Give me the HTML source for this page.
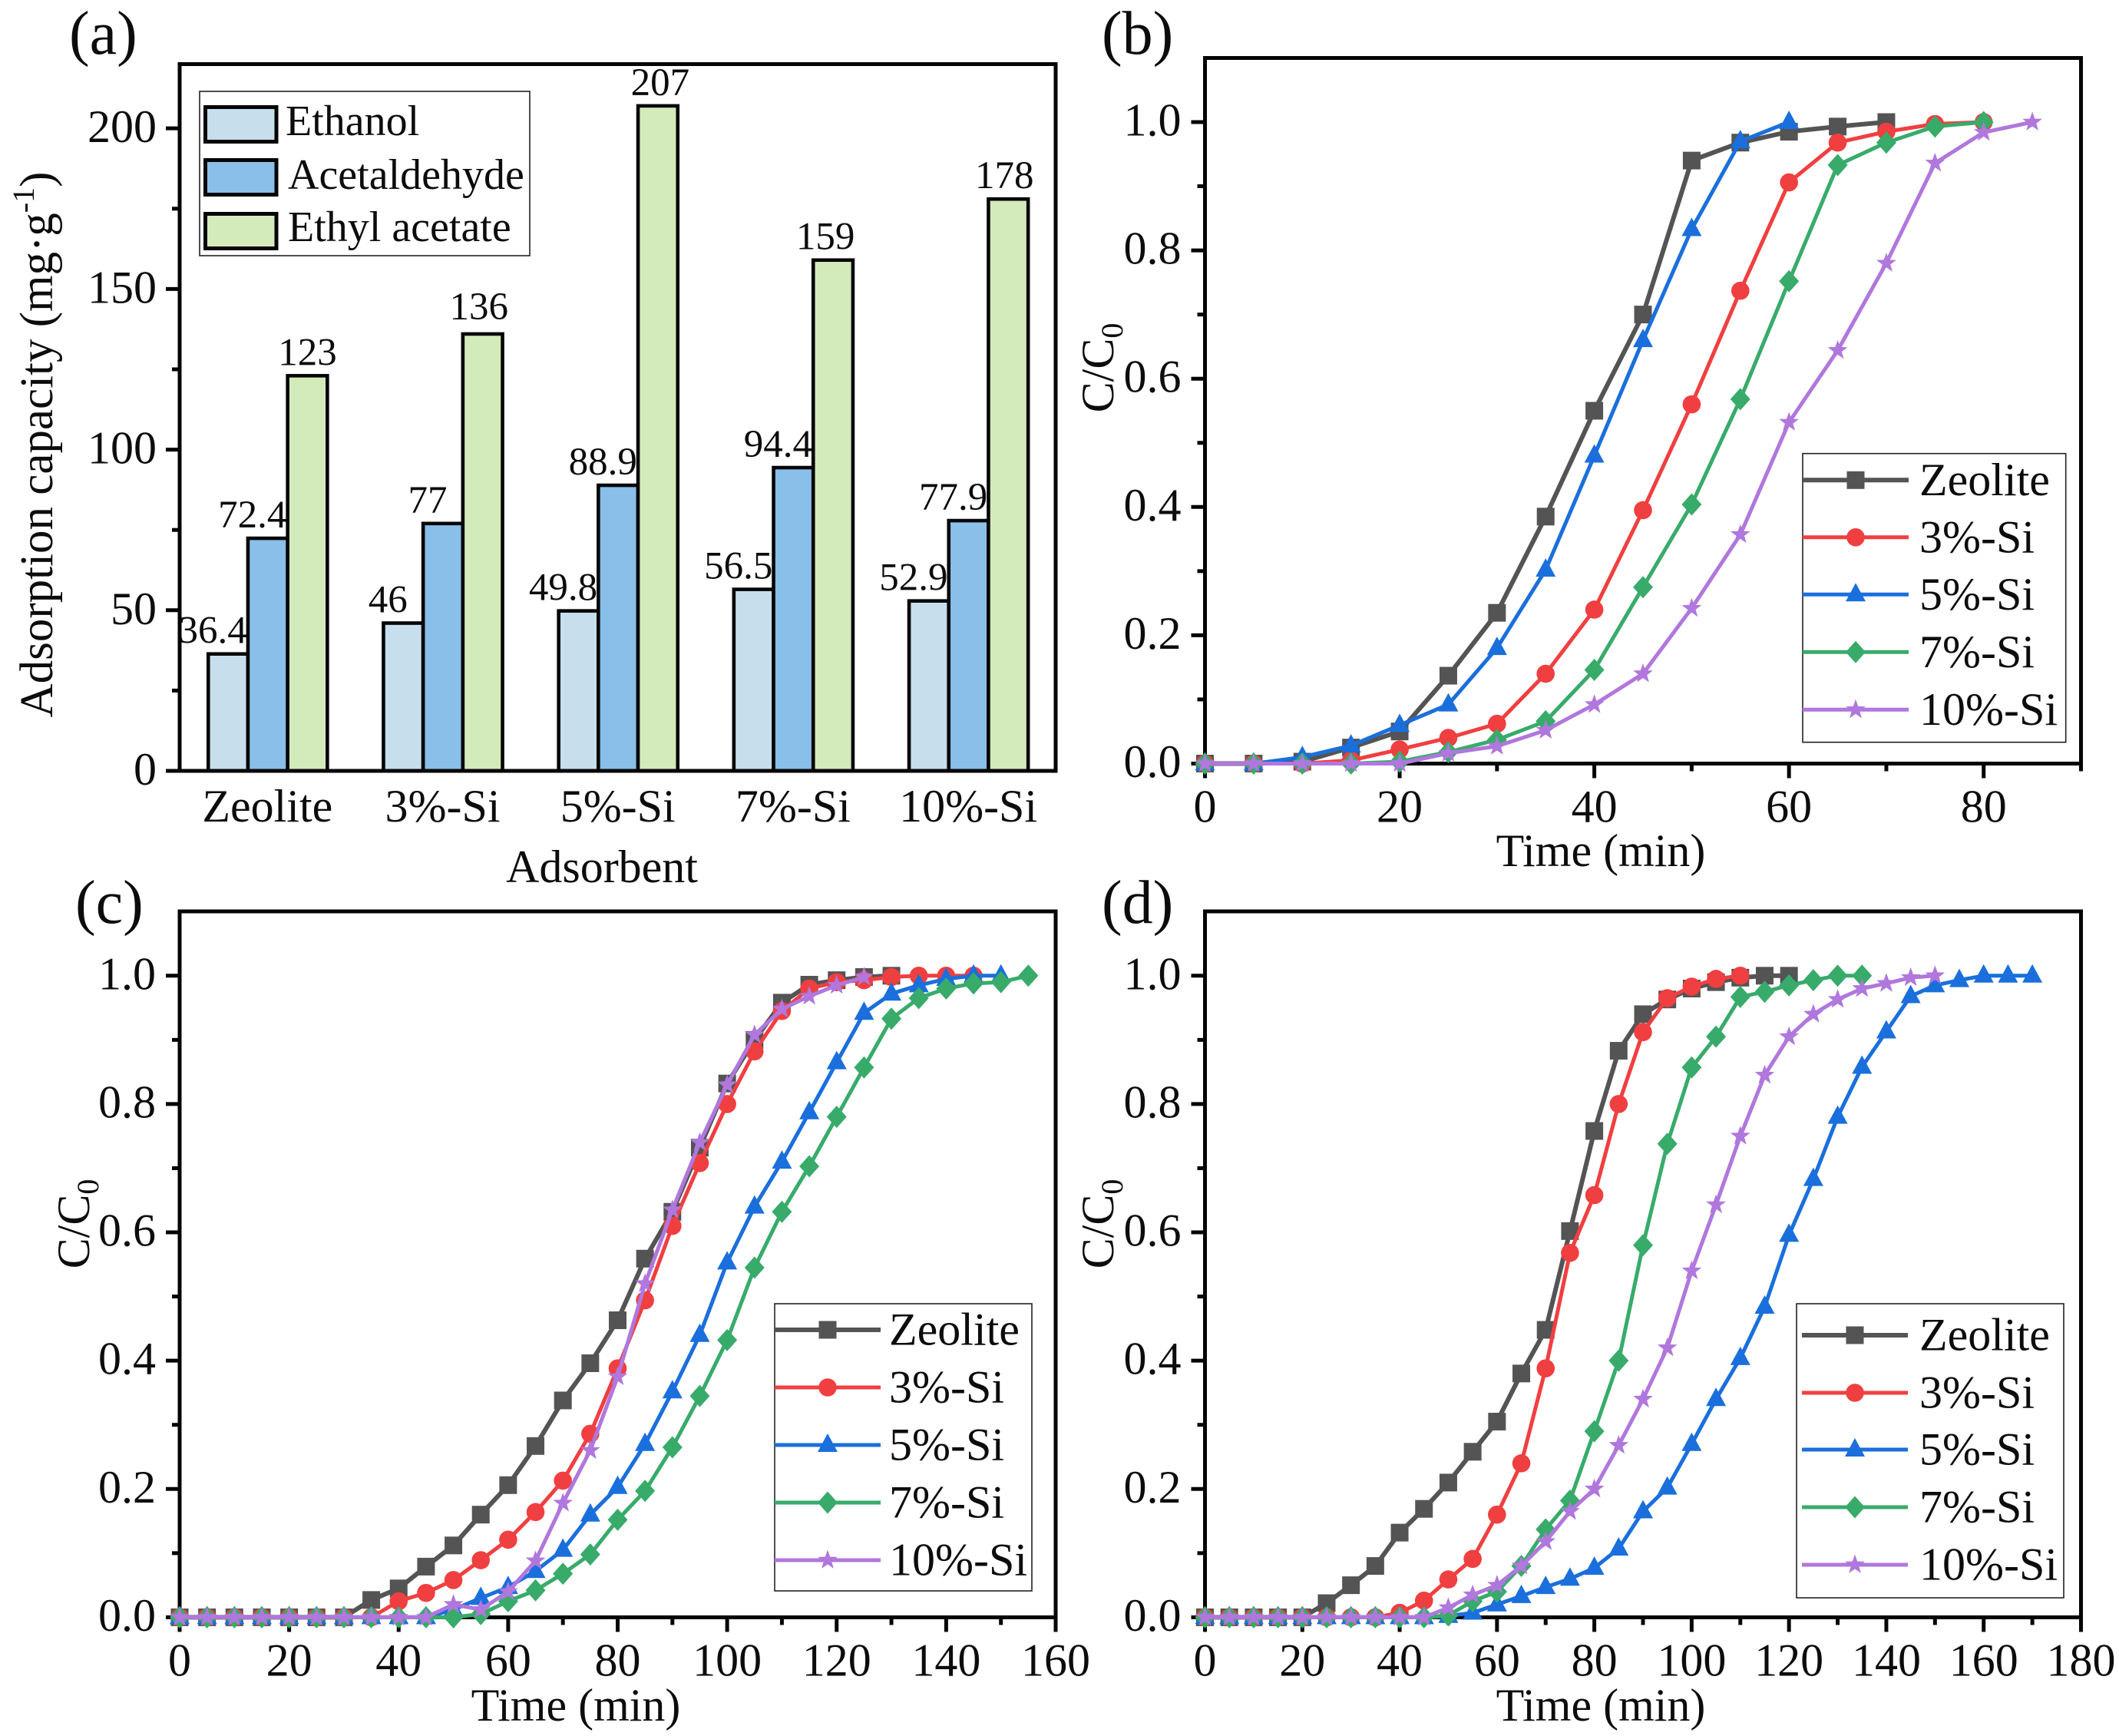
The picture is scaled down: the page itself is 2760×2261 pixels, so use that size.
<!DOCTYPE html>
<html lang="en">
<head>
<meta charset="utf-8">
<title>Adsorption capacity and breakthrough curves</title>
<style>
html,body{margin:0;padding:0;background:#fff;}
svg{display:block;}
text{font-family:"Liberation Serif",serif;fill:#0c0c0c;}
</style>
</head>
<body>
<svg id="fig" xmlns="http://www.w3.org/2000/svg" width="2760" height="2261" viewBox="0 0 2760 2261">
  <rect width="2760" height="2261" fill="#fff"/>
  <g id="plots"></g>
  <text x="90" y="70" font-size="80">(a)</text>
  <text x="1435" y="70" font-size="80">(b)</text>
  <text x="98" y="1202" font-size="80">(c)</text>
  <text x="1435" y="1202" font-size="80">(d)</text>
  <text transform="translate(68,579) rotate(-90)" text-anchor="middle" font-size="61">Adsorption capacity (mg·g<tspan dy="-24" font-size="40">-1</tspan><tspan dy="24">)</tspan></text>
  <text x="784" y="1149" text-anchor="middle" font-size="60">Adsorbent</text>
  <text transform="translate(1450,479) rotate(-90)" text-anchor="middle" font-size="60">C/C<tspan dy="12" font-size="40">0</tspan></text>
  <text x="2085" y="1128" text-anchor="middle" font-size="60">Time (min)</text>
  <text transform="translate(116,1594) rotate(-90)" text-anchor="middle" font-size="60">C/C<tspan dy="12" font-size="40">0</tspan></text>
  <text x="750" y="2241" text-anchor="middle" font-size="60">Time (min)</text>
  <text transform="translate(1450,1594) rotate(-90)" text-anchor="middle" font-size="60">C/C<tspan dy="12" font-size="40">0</tspan></text>
  <text x="2085" y="2241" text-anchor="middle" font-size="60">Time (min)</text>
</svg>
<script>
// ---- Panel (a) data
const adsorbents = ["Zeolite", "3%-Si", "5%-Si", "7%-Si", "10%-Si"];
const ethanol = [36.4, 46, 49.8, 56.5, 52.9];
const acetaldehyde = [72.4, 77, 88.9, 94.4, 77.9];
const ethylAcetate = [123, 136, 207, 159, 178];
const capacityTicks = [0, 50, 100, 150, 200];
const capacityMinorTicks = [25, 75, 125, 175];
const gasNames = ["Ethanol", "Acetaldehyde", "Ethyl acetate"];

// ---- Breakthrough data (samples every 5 min)
const timeMinutes = [0,5,10,15,20,25,30,35,40,45,50,55,60,65,70,75,80,85,90,95,100,105,110,115,120,125,130,135,140,145,150,155,160,165,170];
const seriesNames = ["Zeolite", "3%-Si", "5%-Si", "7%-Si", "10%-Si"];
const ratioTicks = [0, 0.2, 0.4, 0.6, 0.8, 1.0];
const ratioMinorTicks = [0.1, 0.3, 0.5, 0.7, 0.9];

const bZeolite = [0,0,0.003,0.025,0.05,0.137,0.235,0.385,0.55,0.70,0.94,0.968,0.985,0.993,1.0];
const b3Si = [0,0,0,0.005,0.022,0.04,0.062,0.14,0.24,0.395,0.56,0.737,0.906,0.968,0.985,0.997,1.0];
const b5Si = [0,0,0.01,0.028,0.06,0.092,0.18,0.302,0.48,0.66,0.833,0.97,1.0];
const b7Si = [0,0,0,0,0.003,0.018,0.037,0.066,0.146,0.275,0.404,0.568,0.752,0.933,0.968,0.993,1.0];
const b10Si = [0,0,0,0,0,0.016,0.027,0.052,0.092,0.14,0.242,0.357,0.532,0.644,0.78,0.936,0.984,1.0];
const bTimeTicks = [0, 20, 40, 60, 80];
const bTimeMinorTicks = [10, 30, 50, 70, 90];

const cZeolite = [0,0,0,0,0,0,0,0.027,0.045,0.079,0.112,0.16,0.206,0.267,0.338,0.396,0.463,0.559,0.632,0.732,0.832,0.90,0.958,0.986,0.993,0.998,1.0];
const c3Si = [0,0,0,0,0,0,0,0,0.025,0.038,0.058,0.089,0.121,0.164,0.213,0.286,0.388,0.494,0.61,0.708,0.80,0.882,0.945,0.98,0.99,0.993,0.998,1.0,1.0,1.0];
const c5Si = [0,0,0,0,0,0,0,0,0,0,0.012,0.03,0.047,0.072,0.105,0.16,0.203,0.27,0.352,0.44,0.553,0.64,0.71,0.787,0.865,0.942,0.972,0.985,0.995,1.0,1.0];
const c7Si = [0,0,0,0,0,0,0,0,0,0,0,0.005,0.025,0.042,0.068,0.098,0.152,0.197,0.265,0.345,0.432,0.545,0.632,0.703,0.78,0.857,0.933,0.965,0.98,0.988,0.99,1.0];
const c10Si = [0,0,0,0,0,0,0,0,0,0,0.02,0.012,0.04,0.088,0.178,0.26,0.375,0.52,0.635,0.74,0.83,0.908,0.948,0.968,0.985,0.998];
const cTimeTicks = [0, 20, 40, 60, 80, 100, 120, 140, 160];
const cTimeMinorTicks = [10, 30, 50, 70, 90, 110, 130, 150];

const dZeolite = [0,0,0,0,0,0.022,0.05,0.08,0.132,0.169,0.21,0.258,0.305,0.38,0.448,0.602,0.758,0.883,0.94,0.963,0.98,0.99,0.997,1.0,1.0];
const d3Si = [0,0,0,0,0,0,0,0,0.007,0.026,0.059,0.091,0.16,0.24,0.388,0.568,0.658,0.80,0.912,0.965,0.983,0.995,1.0];
const d5Si = [0,0,0,0,0,0,0,0,0,0,0.002,0.007,0.02,0.033,0.047,0.06,0.077,0.107,0.165,0.202,0.27,0.34,0.404,0.484,0.596,0.683,0.78,0.858,0.913,0.968,0.985,0.993,1.0,1.0,1.0];
const d7Si = [0,0,0,0,0,0,0,0,0,0,0.003,0.025,0.04,0.08,0.137,0.182,0.29,0.40,0.58,0.738,0.857,0.905,0.967,0.975,0.985,0.993,1.0,1.0];
const d10Si = [0,0,0,0,0,0,0,0,0,0,0.015,0.035,0.05,0.08,0.118,0.165,0.2,0.268,0.34,0.42,0.54,0.643,0.75,0.845,0.905,0.94,0.963,0.98,0.988,0.997,1.0];
const dTimeTicks = [0, 20, 40, 60, 80, 100, 120, 140, 160, 180];
const dTimeMinorTicks = [10, 30, 50, 70, 90, 110, 130, 150, 170];

const NS = "http://www.w3.org/2000/svg";
const root = document.getElementById("plots");
const colors = ["#545454", "#f03f40", "#1a6fdc", "#38ab6b", "#b077dd"];
const lineWidths = [6, 5, 5, 5, 5];
const barColors = ["#c7deec", "#89bfe9", "#d3ebba"];

function mk(tag, attrs, parent) {
  const el = document.createElementNS(NS, tag);
  for (const k in attrs) el.setAttribute(k, attrs[k]);
  (parent || root).appendChild(el);
  return el;
}
function label(str, x, y, size, anchor, name, parent) {
  const t = mk("text", {x: x, y: y, "font-size": size, "text-anchor": anchor}, parent);
  t.textContent = str;
  
  
  return t;
}
function frame(id, L, R, T, B) {
  const f = mk("rect", {x: L, y: T, width: R - L, height: B - T, fill: "none", stroke: "#050505", "stroke-width": 5});
  
  
}
function tick(x1, y1, x2, y2, name) {
  const t = mk("line", {x1: x1, y1: y1, x2: x2, y2: y2, stroke: "#050505", "stroke-width": 5});
  
  
}
function markerPath(kind, x, y) {
  if (kind === 2) return `M${x} ${y - 15}L${x + 13} ${y + 9}L${x - 13} ${y + 9}Z`;
  if (kind === 3) return `M${x} ${y - 14.5}L${x + 13} ${y}L${x} ${y + 14.5}L${x - 13} ${y}Z`;
  let p = "";
  for (let k = 0; k < 10; k++) {
    const r = k % 2 ? 5.5 : 13.5, a = -Math.PI / 2 + k * Math.PI / 5;
    p += (k ? "L" : "M") + (x + r * Math.cos(a)).toFixed(1) + " " + (y + r * Math.sin(a)).toFixed(1);
  }
  return p + "Z";
}
function marker(kind, x, y, color, parent, name) {
  let m;
  if (kind === 0) m = mk("rect", {x: x - 11.5, y: y - 11.5, width: 23, height: 23, fill: color}, parent);
  else if (kind === 1) m = mk("circle", {cx: x, cy: y, r: 11.8, fill: color}, parent);
  else m = mk("path", {d: markerPath(kind, x, y), fill: color}, parent);
  
  
}

// ---- Panel (a)
(function () {
  const L = 234, R = 1375, T = 83.5, B = 1004, yMax = 220;
  const yS = v => B - v / yMax * (B - T);
  const catX = i => L + 0.7 + (i + 0.5) * (R - L) / adsorbents.length;
  const barW = 51.7;
  const groups = [ethanol, acetaldehyde, ethylAcetate];
  const labelShift = [-20, -20, 0];
  // hand placement of the green-bar labels, by column
  const nudgeX = [0, -5, 3, -10, -5];
  const nudgeY = [0, -5, 0, 0, 0];
  groups.forEach((vals, g) => {
    vals.forEach((v, i) => {
      const cx = catX(i) + (g - 1) * barW;
      const b = mk("rect", {x: cx - barW / 2, y: yS(v), width: barW, height: B - yS(v), fill: barColors[g], stroke: "#050505", "stroke-width": 4.6});
      
      
    });
  });
  groups.forEach((vals, g) => {
    vals.forEach((v, i) => {
      const cx = catX(i) + (g - 1) * barW;
      const dx = g === 2 ? nudgeX[i] : 0;
      const dy = g === 2 ? nudgeY[i] : 0;
      label(String(v), cx + labelShift[g] + dx, yS(v) - 14 + dy, 51, "middle", "bar-value-label");
    });
  });
  frame("a", L, R, T, B);
  capacityTicks.forEach(v => {
    tick(L - 18, yS(v), L, yS(v), "a-y-major-tick");
    label(String(v), 204, yS(v) + 18, 60, "end", "a-y-tick-label");
  });
  capacityMinorTicks.forEach(v => tick(L - 10, yS(v), L, yS(v), "a-y-minor-tick"));
  adsorbents.forEach((c, i) => label(c, catX(i) - 0.5, 1070, 60, "middle", "a-x-tick-label"));
  // legend
  const lg = mk("g", {});
  
  
  const box = mk("rect", {x: 260, y: 119, width: 430, height: 214, fill: "#fff", stroke: "#222", "stroke-width": 1.6}, lg);
  
  
  const rowTop = [139.5, 208.5, 278.5];
  const rowBase = [176, 246, 314];
  const rowTextX = [372, 375, 375];
  const rowFont = [56, 56, 56];
  gasNames.forEach((n, i) => {
    const s = mk("rect", {x: 267.5, y: rowTop[i], width: 92.5, height: 45, fill: barColors[i], stroke: "#050505", "stroke-width": 5}, lg);
    
    
    label(n, rowTextX[i], rowBase[i], rowFont[i], "start", "a-legend-label", lg);
  });
})();

// ---- Line panels
function linePanel(id, L, T, B, zeroY, oneY, xMax, R, all, ticks, minor, lgBox, lgRows, lgX, lgTextX) {
  const xS = v => L + v / xMax * (R - L);
  const yS = v => zeroY - v * (zeroY - oneY);
  frame(id, L, R, T, B);
  ratioTicks.forEach(v => {
    tick(L - 18, yS(v), L, yS(v), id + "-y-major-tick");
    label(v.toFixed(1), L - 31, yS(v) + 17.5, 60, "end", id + "-y-tick-label");
  });
  ratioMinorTicks.forEach(v => tick(L - 10, yS(v), L, yS(v), id + "-y-minor-tick"));
  ticks.forEach(v => {
    tick(xS(v), B, xS(v), B + 19, id + "-x-major-tick");
    label(String(v), xS(v), B + 76, 60, "middle", id + "-x-tick-label");
  });
  minor.forEach(v => tick(xS(v), B, xS(v), B + 10, id + "-x-minor-tick"));
  all.forEach((vals, s) => {
    const g = mk("g", {});
    
    
    const pts = vals.map((v, i) => xS(timeMinutes[i]).toFixed(1) + "," + yS(v).toFixed(1)).join(" ");
    const pl = mk("polyline", {points: pts, fill: "none", stroke: colors[s], "stroke-width": lineWidths[s], "stroke-linejoin": "round"}, g);
    
    
    vals.forEach((v, i) => marker(s, xS(timeMinutes[i]), yS(v), colors[s], g, id + "-point"));
  });
  const lg = mk("g", {});
  
  
  const box = mk("rect", {x: lgBox[0], y: lgBox[1], width: lgBox[2], height: lgBox[3], fill: "#fff", stroke: "#222", "stroke-width": 1.6}, lg);
  
  
  seriesNames.forEach((n, i) => {
    const y = lgRows[i];
    const ln = mk("line", {x1: lgX, y1: y, x2: lgX + 138, y2: y, stroke: colors[i], "stroke-width": lineWidths[i]}, lg);
    
    
    marker(i, lgX + 69, y, colors[i], lg, id + "-legend-marker");
    label(n, lgTextX, y + 19.5, 60, "start", id + "-legend-label", lg);
  });
}

linePanel("b", 1569.5, 75.5, 994.5, 994.5, 159, 90, 2710.5,
  [bZeolite, b3Si, b5Si, b7Si, b10Si], bTimeTicks, bTimeMinorTicks,
  [2348, 590.7, 342.7, 376], [625.3, 699.8, 774.3, 849.3, 924.3], 2348, 2500);
linePanel("c", 234, 1187, 2106.4, 2106.4, 1270.8, 160, 1375,
  [cZeolite, c3Si, c5Si, c7Si, c10Si], cTimeTicks, cTimeMinorTicks,
  [1009, 1698, 335, 374], [1732, 1807, 1882, 1957, 2032], 1009, 1158);
linePanel("d", 1569.5, 1187, 2106.4, 2106.4, 1270.8, 180, 2710.5,
  [dZeolite, d3Si, d5Si, d7Si, d10Si], dTimeTicks, dTimeMinorTicks,
  [2340, 1698, 348, 383], [1739, 1814, 1888, 1963, 2038], 2347, 2500);
</script>
</body>
</html>
